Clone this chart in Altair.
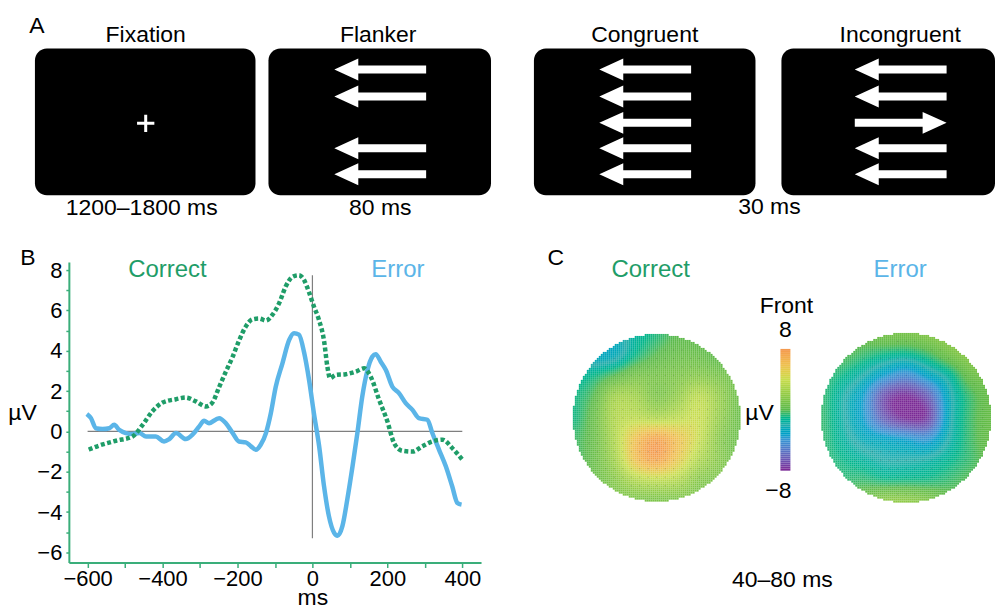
import numpy as np
import pandas as pd
import altair as alt

FONT = "Liberation Sans"
GREEN = "#1f9d68"
BLUE = "#5bb5e8"
AXIS_GREEN = "#3aae7a"

# ---------------- Panel A: stimulus schematic ----------------
stim_names = ["Fixation", "Flanker", "Congruent", "Incongruent"]
stim_center = [146, 379, 646, 902]
box_left = [35, 269, 535, 783]
box_right = [256, 492, 757, 997]
box_top = [48, 48, 48, 48]
box_bottom = [195, 195, 195, 195]
duration_labels = ["1200\u20131800 ms", "80 ms", "30 ms"]
duration_center = [142, 381, 771]
duration_base = [215, 215, 214]
arrow_x = [381] * 4 + [646.5] * 5 + [902.5] * 5
arrow_y = [69, 96, 148, 174] + [69, 96, 122.5, 148, 174] * 2
arrow_dir = ["left"] * 9 + ["left", "left", "right", "left", "left"]
panel_letters = ["A", "B", "C"]
letter_x = [37, 28, 557]
letter_y = [32, 265, 265]

# ---------------- Panel B: ERP waveforms ----------------
correct_ms = [-597, -569, -524, -480, -453, -427, -400, -364, -338, -311, -284, -267,
              -249, -231, -213, -196, -178, -160, -142, -124, -107, -89, -71, -53,
              -36, -22, -9, 4, 18, 31, 40, 47, 62, 89, 116, 138, 156, 178, 200,
              218, 240, 267, 293, 320, 347, 373, 400]
correct_uv = [-0.9, -0.7, -0.46, -0.25, 0.33, 1.0, 1.43, 1.6, 1.68, 1.49, 1.24, 1.43,
              2.2, 2.97, 3.7, 4.5, 5.2, 5.56, 5.6, 5.5, 5.78, 6.35, 7.2, 7.67,
              7.75, 7.5, 6.9, 6.2, 5.5, 4.5, 3.2, 2.64, 2.8, 2.84, 2.97, 3.13, 2.7,
              1.57, 0.5, -0.58, -0.96, -1.0, -0.74, -0.5, -0.41, -0.82, -1.4]
error_ms = [-602, -591, -578, -560, -542, -529, -516, -498, -480, -462, -444, -418,
            -396, -382, -364, -338, -320, -302, -289, -276, -249, -231, -213, -196,
            -178, -164, -151, -138, -124, -111, -98, -80, -62, -49, -36, -22, -9,
            4, 18, 31, 44, 58, 67, 80, 93, 107, 120, 133, 147, 160, 169, 182, 196,
            213, 231, 249, 267, 284, 307, 320, 338, 356, 373, 387, 398]
error_uv = [0.87, 0.66, 0.16, 0.12, 0.16, 0.33, 0.08, -0.08, -0.13, -0.08, -0.25, -0.25,
            -0.5, -0.38, -0.08, -0.38, -0.16, 0.25, 0.53, 0.41, 0.66, 0.41, -0.08, -0.5,
            -0.54, -0.74, -0.91, -0.66, -0.08, 0.9, 2.2, 3.38, 4.54, 4.87, 4.8, 3.9, 2.56,
            0.9, -0.74, -2.72, -4.2, -5.03, -5.17, -4.7, -3.38, -1.73, -0.08, 1.73, 3.05, 3.71,
            3.83, 3.47, 3.05, 2.23, 1.9, 1.4, 1.07, 0.66, 0.58, -0.08, -0.91, -1.73, -2.72,
            -3.55, -3.63]
cond_labels = ["Correct", "Error"]
cond_label_ms = [-387, 228]
cond_label_uv = [7.67, 7.67]

# ---------------- Panel C: scalp topographies (µV, 9x9 grid, front at top) ----------------
topo_correct = [
    [-2, -2.5, -2.5, -1.5, -0.8, 0, 0, 0, 0],
    [-2, -2.8, -2.5, -1, 0, 0.5, 0.5, 0, 0],
    [-1.5, -1, 0, 1, 1, 1.2, 1.5, 1, 0.5],
    [-1, 0, 2.5, 2.5, 1.2, 2, 3.5, 2, 0.5],
    [-1, 0.5, 3, 3.5, 3, 3.5, 4, 2, 0.5],
    [-0.5, 0.5, 3, 6, 7.5, 6, 4, 1.5, 0.5],
    [-0.5, 0.5, 2.5, 6, 7.5, 5.5, 3, 1.5, 0.5],
    [0, 0.5, 1.5, 3, 3.5, 3, 1.5, 1, 0.5],
    [0.5, 0.5, 1, 1, 1, 1, 1, 0.5, 0.5],
]
topo_error = [
    [0.5, 0.5, 0.5, 1, 1, 1.5, 2, 2.5, 2.5],
    [0, 0, -0.5, -1, -1.2, -0.5, 0.8, 1.8, 2],
    [-0.5, -1, -2, -3.5, -4.5, -3, -1.5, 0.5, 1],
    [-0.5, -1.8, -3.5, -7, -8, -6.5, -2.5, -0.5, 0.5],
    [-0.5, -1.8, -3.5, -6.5, -8, -7.5, -2.5, -0.5, 0.5],
    [-0.5, -1.5, -2.5, -3, -3.5, -4, -2, -0.5, 0.5],
    [-0.5, -1, -1.5, -2, -2, -1.8, -1.2, -0.5, 0.3],
    [0, -0.5, -0.5, -0.8, -0.8, -0.8, -0.5, 0, 0.3],
    [0.5, 0.5, 1, 2, 2, 1.5, 0.5, 0.3, 0.3],
]
cbar_domain = [-8, -6, -4, -2, 0, 2, 4, 6, 8]
cbar_colors = ["#7a2a96", "#6468bc", "#3795d2", "#26acaa", "#5ab94a",
               "#92cb46", "#c8dd4e", "#eec050", "#f49a4e"]

# ======================= build panel A =======================
XA = alt.X("x:Q", scale=alt.Scale(domain=[0, 995], nice=False, zero=False), axis=None)
YA = alt.Y("y:Q", scale=alt.Scale(domain=[0, 262], nice=False, zero=False, reverse=True), axis=None)

boxes = pd.DataFrame({"x": box_left, "x2": box_right, "y": box_top, "y2": box_bottom})
box_layer = alt.Chart(boxes).mark_rect(color="black", cornerRadius=12).encode(
    x=XA, x2="x2:Q", y=YA, y2="y2:Q")

cross = pd.DataFrame({"x": [stim_center[0]], "y": [123]})
cross_layer = alt.Chart(cross).mark_point(
    shape="M-1,0L1,0M0,-1L0,1", filled=False, stroke="white", strokeWidth=3,
    size=300, opacity=1).encode(x=XA, y=YA)

ARROW_L = "M-1,0L-0.478,-0.239L-0.478,-0.087L1,-0.087L1,0.087L-0.478,0.087L-0.478,0.239Z"
ARROW_R = "M1,0L0.478,-0.239L0.478,-0.087L-1,-0.087L-1,0.087L0.478,0.087L0.478,0.239Z"
arrows = pd.DataFrame({"x": arrow_x, "y": arrow_y, "dir": arrow_dir})
arrow_layer = alt.Chart(arrows).mark_point(filled=True, color="white", opacity=1,
                                           size=92 * 92, strokeWidth=0).encode(
    x=XA, y=YA,
    shape=alt.Shape("dir:N", scale=alt.Scale(domain=["left", "right"], range=[ARROW_L, ARROW_R]),
                    legend=None))

stim_df = pd.DataFrame({"x": stim_center, "y": [41] * 4, "t": stim_names})
stim_text = alt.Chart(stim_df).mark_text(font=FONT, fontSize=23, baseline="alphabetic",
                                         align="center", color="black").encode(
    x=XA, y=YA, text="t:N")
dur_df = pd.DataFrame({"x": duration_center, "y": duration_base, "t": duration_labels})
dur_text = alt.Chart(dur_df).mark_text(font=FONT, fontSize=23, baseline="alphabetic",
                                       align="center", color="black").encode(
    x=XA, y=YA, text="t:N")
let_df = pd.DataFrame({"x": letter_x, "y": letter_y, "t": panel_letters})
let_text = alt.Chart(let_df).mark_text(font=FONT, fontSize=23, baseline="alphabetic",
                                       align="center", color="black").encode(
    x=XA, y=YA, text="t:N")

panelA = alt.layer(box_layer, cross_layer, arrow_layer, stim_text, dur_text, let_text).properties(
    width=995, height=262)

# ======================= build panel B =======================
XB = alt.X("ms:Q", scale=alt.Scale(domain=[-650, 450], nice=False, zero=False),
           axis=alt.Axis(values=list(range(-600, 401, 100)),
                         labelExpr="datum.value % 200 === 0 ? datum.label : ''",
                         title="ms", titleX=244, titleY=42, titleBaseline="alphabetic",
                         titleAlign="center", titleFont=FONT, titleFontSize=23,
                         titleFontWeight="normal", titleColor="black",
                         labelFont=FONT, labelFontSize=22, labelColor="black",
                         labelFlush=False, labelOverlap=False, labelPadding=1,
                         domainColor=AXIS_GREEN, domainWidth=2, tickColor=AXIS_GREEN,
                         tickWidth=1.5, tickSize=5, grid=False))
YB = alt.Y("uv:Q", scale=alt.Scale(domain=[-6.5, 8.4], nice=False, zero=False),
           axis=alt.Axis(values=list(range(-6, 9)),
                         labelExpr="datum.value % 2 === 0 ? datum.label : ''",
                         title="\u00b5V", titleAngle=0, titleX=-47, titleY=158,
                         titleAlign="center", titleBaseline="alphabetic",
                         titleFont=FONT, titleFontSize=23, titleFontWeight="normal",
                         titleColor="black",
                         labelFont=FONT, labelFontSize=22, labelColor="black",
                         labelFlush=False, labelOverlap=False, labelPadding=4,
                         domainColor=AXIS_GREEN, domainWidth=2, tickColor=AXIS_GREEN,
                         tickWidth=1.5, tickSize=3, grid=False))

hline = alt.Chart(pd.DataFrame({"ms": [-600], "ms2": [400], "uv": [0]})).mark_rule(
    color="#7f7f7f", strokeWidth=1.2).encode(x=XB, x2="ms2:Q", y=YB)
vline = alt.Chart(pd.DataFrame({"ms": [0], "uv": [-5.3], "uv2": [7.75]})).mark_rule(
    color="#7f7f7f", strokeWidth=1.2).encode(x=XB, y=YB, y2="uv2:Q")
err_line = alt.Chart(pd.DataFrame({"ms": error_ms, "uv": error_uv})).mark_line(
    color=BLUE, strokeWidth=4.5, interpolate="monotone").encode(x=XB, y=YB)
cor_line = alt.Chart(pd.DataFrame({"ms": correct_ms, "uv": correct_uv})).mark_line(
    color=GREEN, strokeWidth=4.5, strokeDash=[4, 2.5], interpolate="monotone").encode(x=XB, y=YB)
lab_df = pd.DataFrame({"ms": cond_label_ms, "uv": cond_label_uv, "t": cond_labels})
lab_b = alt.Chart(lab_df).mark_text(font=FONT, fontSize=24, baseline="alphabetic",
                                    align="center").encode(
    x=XB, y=YB, text="t:N",
    color=alt.Color("t:N", scale=alt.Scale(domain=cond_labels, range=[GREEN, BLUE]), legend=None))

panelB = alt.layer(hline, vline, err_line, cor_line, lab_b).properties(width=413, height=301)

# ======================= build panel C =======================
XC = alt.X("x:Q", scale=alt.Scale(domain=[482, 995], nice=False, zero=False), axis=None)
YC = alt.Y("y:Q", scale=alt.Scale(domain=[262, 610], nice=False, zero=False, reverse=True), axis=None)
CSCALE = alt.Scale(domain=cbar_domain, range=cbar_colors, clamp=True)


def cubic_matrix(coords, m):
    """Catmull-Rom resampling matrix from m grid nodes on [-1,1] to coords."""
    idx = (coords + 1) / 2 * (m - 1)
    M = np.zeros((len(coords), m))
    for k, s in enumerate(idx):
        i = int(np.clip(np.floor(s), 0, m - 2))
        t = s - i
        w = [(-t + 2 * t * t - t ** 3) / 2, (2 - 5 * t * t + 3 * t ** 3) / 2,
             (t + 4 * t * t - 3 * t ** 3) / 2, (-t * t + t ** 3) / 2]
        for off, wt in zip((-1, 0, 1, 2), w):
            j = int(np.clip(i + off, 0, m - 1))
            M[k, j] += wt
    return M


def topo_cells(grid, cx, cy, r, step=2):
    g = np.array(grid, dtype=float)
    m = g.shape[0]
    n = int(round(2 * r / step))
    centers = (np.arange(n) + 0.5) * step - r
    M = cubic_matrix(centers / r, m)
    fine = M @ g @ M.T
    for _ in range(2):
        p = np.pad(fine, 1, mode="edge")
        acc = np.zeros_like(fine)
        for dy in range(3):
            for dx in range(3):
                acc += p[dy:dy + n, dx:dx + n]
        fine = acc / 9.0
    recs = []
    for iy in range(n):
        for ix in range(n):
            ox, oy = centers[ix], centers[iy]
            if ox * ox + oy * oy <= r * r:
                x0 = cx - r + ix * step
                y0 = cy - r + iy * step
                recs.append((x0, x0 + step, y0, y0 + step, round(float(fine[iy, ix]), 2)))
    return recs


def electrode_dots(cx, cy, r, spacing=8.5):
    pts = []
    k = int(r // spacing) + 1
    for i in range(-k, k + 1):
        for j in range(-k, k + 1):
            ox, oy = i * spacing, j * spacing
            if ox * ox + oy * oy <= (r - 8) ** 2:
                pts.append((round(cx + ox, 1), round(cy + oy, 1)))
    return pts


cells = topo_cells(topo_correct, 658, 418, 84) + topo_cells(topo_error, 908, 418, 85)
cell_df = pd.DataFrame(cells, columns=["x", "x2", "y", "y2", "v"])
topo_layer = alt.Chart(cell_df).mark_rect(strokeWidth=0).encode(
    x=XC, x2="x2:Q", y=YC, y2="y2:Q", color=alt.Color("v:Q", scale=CSCALE, legend=None))

dots = electrode_dots(658, 418, 84) + electrode_dots(908, 418, 85)
dot_df = pd.DataFrame(dots, columns=["x", "y"])
dot_layer = alt.Chart(dot_df).mark_circle(size=1.5, color="#333333", opacity=0.22).encode(x=XC, y=YC)

cb_vals = np.linspace(8, -8, 61)
cb_y0 = 349 + np.arange(61) * 2
cb_df = pd.DataFrame({"x": [782] * 61, "x2": [792] * 61, "y": cb_y0, "y2": cb_y0 + 2,
                      "v": np.round(cb_vals, 3)})
cb_layer = alt.Chart(cb_df).mark_rect(strokeWidth=0).encode(
    x=XC, x2="x2:Q", y=YC, y2="y2:Q", color=alt.Color("v:Q", scale=CSCALE, legend=None))

c_labels = pd.DataFrame({"x": [652, 902], "y": [277, 277], "t": cond_labels})
c_lab_layer = alt.Chart(c_labels).mark_text(font=FONT, fontSize=24, baseline="alphabetic",
                                            align="center").encode(
    x=XC, y=YC, text="t:N",
    color=alt.Color("t:N", scale=alt.Scale(domain=cond_labels, range=[GREEN, BLUE]), legend=None))
c_text = pd.DataFrame({"x": [788, 787, 780, 761, 784],
                       "y": [313, 337, 498, 420, 588],
                       "t": ["Front", "8", "\u22128", "\u00b5V", "40\u201380 ms"]})
c_text_layer = alt.Chart(c_text).mark_text(font=FONT, fontSize=23, baseline="alphabetic",
                                           align="center", color="black").encode(
    x=XC, y=YC, text="t:N")

panelC = alt.layer(topo_layer, dot_layer, cb_layer, c_lab_layer, c_text_layer).properties(
    width=513, height=348).resolve_scale(color="independent")

spacer = alt.Chart(pd.DataFrame({"s": [0]})).mark_point(opacity=0).encode(
    x=alt.X("s:Q", axis=None), y=alt.Y("s:Q", axis=None)).properties(width=69, height=10)

bottom = alt.hconcat(spacer, panelB, panelC, spacing=0, bounds="flush")
chart = alt.vconcat(panelA, bottom, spacing=0, bounds="flush").properties(
    padding=0, background="white").configure_view(strokeWidth=0)

chart.save("out.html", embed_options={"renderer": "svg", "actions": False})
